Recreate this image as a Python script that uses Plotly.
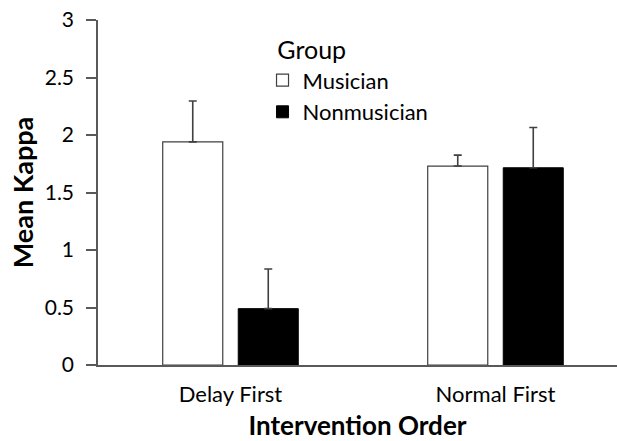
import plotly.graph_objects as go

categories = ["Delay First", "Normal First"]
musician_mean = [1.94, 1.73]
musician_err = [0.355, 0.095]
nonmusician_mean = [0.49, 1.715]
nonmusician_err = [0.345, 0.35]
y_ticks = [0, 0.5, 1, 1.5, 2, 2.5, 3]
y_tick_labels = ["0", "0.5", "1", "1.5", "2", "2.5", "3"]

FONT = "Lato"
AXIS_COLOR = "#595959"

fig = go.Figure()
fig.add_trace(go.Bar(
    name="Musician", x=categories, y=musician_mean,
    marker=dict(color="white", line=dict(color="#404040", width=1.2)),
    error_y=dict(type="data", array=musician_err, arrayminus=[0, 0], symmetric=False,
                 color="#404040", thickness=1.6, width=4),
    legendgroup="m",
))
fig.add_trace(go.Bar(
    name="Nonmusician", x=categories, y=nonmusician_mean,
    marker=dict(color="black", line=dict(color="black", width=1)),
    error_y=dict(type="data", array=nonmusician_err, arrayminus=[0, 0], symmetric=False,
                 color="#404040", thickness=1.6, width=4),
    legendgroup="n",
))

fig.update_layout(
    width=617, height=441,
    margin=dict(l=98, r=0, t=20, b=76, autoexpand=False),
    paper_bgcolor="white", plot_bgcolor="white",
    barmode="group", bargap=0.43, bargroupgap=0.205,
    font=dict(family=FONT, color="black", size=21),
    showlegend=True,
    legend=dict(
        x=0.317, y=0.98, xanchor="left", yanchor="top",
        title=dict(text="\u00a0\u00a0Group", font=dict(size=25, family=FONT)),
        font=dict(size=22, family=FONT),
        tracegroupgap=0, bgcolor="rgba(0,0,0,0)",
    ),
    xaxis=dict(
        type="category", range=[-0.5, 1.4585], automargin=False,
        showline=True, linecolor=AXIS_COLOR, linewidth=1.5,
        ticks="", showgrid=False, zeroline=False,
        ticklabelstandoff=9,
        tickfont=dict(size=22, family=FONT),
        title=dict(text="<b>Intervention Order</b>", font=dict(size=26, family=FONT), standoff=11),
    ),
    yaxis=dict(
        range=[0, 3], tickvals=y_ticks, ticktext=y_tick_labels, automargin=False,
        showline=True, linecolor=AXIS_COLOR, linewidth=1.5,
        ticks="outside", ticklen=10, tickcolor=AXIS_COLOR, tickwidth=1.5,
        ticklabelstandoff=8, ticklabeloverflow="allow",
        showgrid=False, zeroline=False,
        tickfont=dict(size=21, family=FONT),
        title=dict(text="<b>Mean Kappa</b>", font=dict(size=27, family=FONT), standoff=3),
    ),
)

fig.write_html("out.html", config={"displayModeBar": False},
               post_script="document.body.style.margin='0';")
